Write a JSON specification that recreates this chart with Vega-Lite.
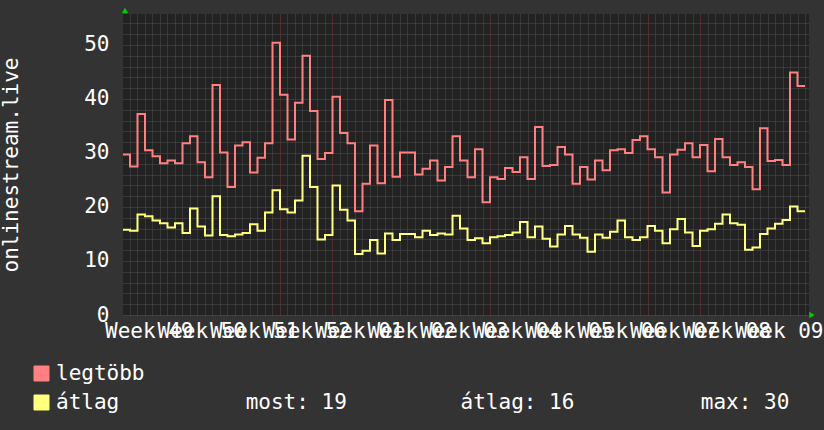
{
  "$schema": "https://vega.github.io/schema/vega-lite/v6.json",
  "width": 686,
  "height": 301,
  "autosize": "none",
  "padding": {"left": 123, "top": 14, "right": 15, "bottom": 115},
  "background": "#333333",
  "view": {"fill": "#222222", "stroke": null},
  "config": {"font": "DejaVu Sans Mono"},
  "data": {"values": [
    {"d": -1, "max": 29.7, "avg": 15.8}, {"d": 0, "max": 27.5, "avg": 15.6}, {"d": 1, "max": 37.2, "avg": 18.6},
    {"d": 2, "max": 30.5, "avg": 18.3}, {"d": 3, "max": 29.4, "avg": 17.5}, {"d": 4, "max": 28.1, "avg": 17.0},
    {"d": 5, "max": 28.6, "avg": 16.2}, {"d": 6, "max": 28.1, "avg": 17.0}, {"d": 7, "max": 31.8, "avg": 15.2},
    {"d": 8, "max": 33.1, "avg": 19.7}, {"d": 9, "max": 28.3, "avg": 16.4}, {"d": 10, "max": 25.5, "avg": 14.7},
    {"d": 11, "max": 42.6, "avg": 22.0}, {"d": 12, "max": 30.1, "avg": 14.8}, {"d": 13, "max": 23.7, "avg": 14.6},
    {"d": 14, "max": 31.4, "avg": 14.9}, {"d": 15, "max": 32.0, "avg": 15.2}, {"d": 16, "max": 26.4, "avg": 16.8},
    {"d": 17, "max": 29.1, "avg": 15.6}, {"d": 18, "max": 31.8, "avg": 19.0}, {"d": 19, "max": 50.4, "avg": 23.1},
    {"d": 20, "max": 40.8, "avg": 19.6}, {"d": 21, "max": 32.5, "avg": 19.0}, {"d": 22, "max": 39.3, "avg": 21.2},
    {"d": 23, "max": 48.0, "avg": 29.5}, {"d": 24, "max": 37.8, "avg": 23.7}, {"d": 25, "max": 28.9, "avg": 14.0},
    {"d": 26, "max": 30.0, "avg": 14.8}, {"d": 27, "max": 40.4, "avg": 24.0}, {"d": 28, "max": 33.7, "avg": 19.5},
    {"d": 29, "max": 31.8, "avg": 17.5}, {"d": 30, "max": 19.2, "avg": 11.3}, {"d": 31, "max": 24.3, "avg": 11.9},
    {"d": 32, "max": 31.4, "avg": 13.9}, {"d": 33, "max": 24.4, "avg": 11.4}, {"d": 34, "max": 39.8, "avg": 15.1},
    {"d": 35, "max": 25.6, "avg": 13.9}, {"d": 36, "max": 30.1, "avg": 15.0}, {"d": 37, "max": 30.1, "avg": 15.0},
    {"d": 38, "max": 26.0, "avg": 14.4}, {"d": 39, "max": 27.1, "avg": 15.6}, {"d": 40, "max": 28.6, "avg": 14.8},
    {"d": 41, "max": 24.9, "avg": 15.1}, {"d": 42, "max": 27.4, "avg": 14.9}, {"d": 43, "max": 33.1, "avg": 18.4},
    {"d": 44, "max": 28.6, "avg": 16.0}, {"d": 45, "max": 25.5, "avg": 13.9}, {"d": 46, "max": 30.7, "avg": 14.2},
    {"d": 47, "max": 20.9, "avg": 13.3}, {"d": 48, "max": 25.5, "avg": 14.4}, {"d": 49, "max": 25.2, "avg": 14.6},
    {"d": 50, "max": 27.2, "avg": 14.8}, {"d": 51, "max": 26.5, "avg": 15.3}, {"d": 52, "max": 29.2, "avg": 17.2},
    {"d": 53, "max": 25.2, "avg": 14.4}, {"d": 54, "max": 34.8, "avg": 16.4}, {"d": 55, "max": 27.6, "avg": 14.1},
    {"d": 56, "max": 27.8, "avg": 12.7}, {"d": 57, "max": 31.1, "avg": 14.9}, {"d": 58, "max": 29.7, "avg": 16.5},
    {"d": 59, "max": 24.3, "avg": 14.9}, {"d": 60, "max": 27.4, "avg": 14.3}, {"d": 61, "max": 25.1, "avg": 11.7},
    {"d": 62, "max": 28.6, "avg": 14.9}, {"d": 63, "max": 26.8, "avg": 14.3}, {"d": 64, "max": 30.5, "avg": 15.4},
    {"d": 65, "max": 30.7, "avg": 17.5}, {"d": 66, "max": 30.0, "avg": 14.4}, {"d": 67, "max": 32.4, "avg": 13.9},
    {"d": 68, "max": 33.1, "avg": 14.4}, {"d": 69, "max": 30.7, "avg": 16.5}, {"d": 70, "max": 29.2, "avg": 15.6},
    {"d": 71, "max": 22.7, "avg": 13.3}, {"d": 72, "max": 29.7, "avg": 15.9}, {"d": 73, "max": 30.6, "avg": 17.8},
    {"d": 74, "max": 31.8, "avg": 15.3}, {"d": 75, "max": 29.2, "avg": 12.8}, {"d": 76, "max": 31.5, "avg": 15.6},
    {"d": 77, "max": 26.6, "avg": 15.9}, {"d": 78, "max": 32.6, "avg": 16.9}, {"d": 79, "max": 29.2, "avg": 18.6},
    {"d": 80, "max": 27.8, "avg": 17.0}, {"d": 81, "max": 28.3, "avg": 16.7}, {"d": 82, "max": 27.4, "avg": 12.1},
    {"d": 83, "max": 23.3, "avg": 12.5}, {"d": 84, "max": 34.6, "avg": 15.0}, {"d": 85, "max": 28.5, "avg": 16.0},
    {"d": 86, "max": 28.7, "avg": 16.9}, {"d": 87, "max": 27.8, "avg": 17.6}, {"d": 88, "max": 44.9, "avg": 20.1},
    {"d": 89, "max": 42.4, "avg": 19.2}, {"d": 90, "max": 42.4, "avg": 19.2}
  ]},
  "layer": [
    {
      "transform": [{"fold": ["max", "avg"], "as": ["series", "v"]}],
      "mark": {"type": "line", "interpolate": "step-after", "strokeWidth": 2, "clip": true},
      "encoding": {
        "x": {
          "field": "d", "type": "quantitative", "title": null,
          "scale": {"domain": [-0.933, 90.533], "nice": false, "zero": false},
          "axis": {
            "values": [0,1,2,2.5,3,4,5,6,7,8,9,9.5,10,11,12,13,14,15,16,16.5,17,18,19,20,21,22,23,23.5,24,25,26,27,28,29,30,30.5,31,32,33,34,35,36,37,37.5,38,39,40,41,42,43,44,44.5,45,46,47,48,49,50,51,51.5,52,53,54,55,56,57,58,58.5,59,60,61,62,63,64,65,65.5,66,67,68,69,70,71,72,72.5,73,74,75,76,77,78,79,79.5,80,81,82,83,84,85,86,86.5,87,88,89,90],
            "labelExpr": "datum.value % 1 == 0 ? '' : (datum.value < 30 ? 'Week ' + (49 + floor(datum.value / 7)) : 'Week 0' + (floor(datum.value / 7) - 3))",
            "labelOverlap": false, "labelFlush": false, "labelBound": false,
            "labelFont": "DejaVu Sans Mono", "labelFontSize": 21, "labelColor": "#ffffff", "labelPadding": 5,
            "ticks": false, "domain": false, "grid": true,
            "gridColor": {"condition": {"test": "datum.value % 7 == 6 && datum.value < 90", "value": "#803838"}, "value": "#4e4e4e"},
            "gridOpacity": {"condition": {"test": "datum.value % 1 != 0", "value": 0}, "value": 1},
            "gridDash": [1, 1]
          }
        },
        "y": {
          "field": "v", "type": "quantitative", "title": "onlinestream.live",
          "scale": {"domain": [0, 55.74], "nice": false},
          "axis": {
            "values": [0,2,4,6,8,10,12,14,16,18,20,22,24,26,28,30,32,34,36,38,40,42,44,46,48,50,52,54],
            "labelExpr": "datum.value % 10 == 0 ? datum.label : ''",
            "labelOverlap": false,
            "labelFont": "DejaVu Sans Mono", "labelFontSize": 21, "labelColor": "#ffffff", "labelPadding": 14,
            "ticks": false, "domain": false, "grid": true,
            "gridColor": {"condition": {"test": "datum.value % 10 == 0", "value": "#803838"}, "value": "#4e4e4e"},
            "gridDash": [1, 1],
            "titleFont": "DejaVu Sans Mono", "titleFontSize": 21, "titleFontWeight": "normal", "titleColor": "#ffffff", "titlePadding": 62
          }
        },
        "color": {
          "field": "series", "type": "nominal",
          "scale": {"domain": ["max", "avg"], "range": ["#ff8080", "#ffff80"]},
          "legend": {
            "title": null, "orient": "none", "legendX": -92, "legendY": 349, "direction": "vertical",
            "symbolType": "square", "symbolSize": 225, "symbolStrokeWidth": 1, "symbolStrokeColor": "#000000",
            "labelFont": "DejaVu Sans Mono", "labelFontSize": 21, "labelColor": "#ffffff", "labelLimit": 900,
            "labelOffset": 4, "rowPadding": 7, "padding": 0,
            "labelExpr": "datum.value == 'max' ? 'legtöbb' : 'átlag' + '\u00a0\u00a0\u00a0\u00a0\u00a0\u00a0\u00a0\u00a0\u00a0\u00a0' + 'most:\u00a019' + '\u00a0\u00a0\u00a0\u00a0\u00a0\u00a0\u00a0\u00a0\u00a0' + 'átlag:\u00a016' + '\u00a0\u00a0\u00a0\u00a0\u00a0\u00a0\u00a0\u00a0\u00a0\u00a0' + 'max:\u00a030'",
            "encode": {"symbols": {"update": {"fill": {"scale": "color", "field": "value"}, "stroke": {"value": "#000000"}, "opacity": {"value": 1}}}}
          }
        }
      }
    },
    {
      "data": {"values": [{"d": -0.667, "v": 56.4}]},
      "mark": {"type": "point", "shape": "triangle-up", "filled": true, "size": 40, "color": "#00cc00", "opacity": 1},
      "encoding": {
        "x": {
          "field": "d", "type": "quantitative", "title": null,
          "axis": {
            "values": [0,1,2,2.5,3,4,5,6,7,8,9,9.5,10,11,12,13,14,15,16,16.5,17,18,19,20,21,22,23,23.5,24,25,26,27,28,29,30,30.5,31,32,33,34,35,36,37,37.5,38,39,40,41,42,43,44,44.5,45,46,47,48,49,50,51,51.5,52,53,54,55,56,57,58,58.5,59,60,61,62,63,64,65,65.5,66,67,68,69,70,71,72,72.5,73,74,75,76,77,78,79,79.5,80,81,82,83,84,85,86,86.5,87,88,89,90],
            "labelExpr": "datum.value % 1 == 0 ? '' : (datum.value < 30 ? 'Week ' + (49 + floor(datum.value / 7)) : 'Week 0' + (floor(datum.value / 7) - 3))",
            "labelOverlap": false, "labelFlush": false, "labelBound": false,
            "labelFont": "DejaVu Sans Mono", "labelFontSize": 21, "labelColor": "#ffffff", "labelPadding": 5,
            "ticks": false, "domain": false, "grid": true,
            "gridColor": {"condition": {"test": "datum.value % 7 == 6 && datum.value < 90", "value": "#803838"}, "value": "#4e4e4e"},
            "gridOpacity": {"condition": {"test": "datum.value % 1 != 0", "value": 0}, "value": 1},
            "gridDash": [1, 1]
          }
        },
        "y": {
          "field": "v", "type": "quantitative", "title": "onlinestream.live",
          "axis": {
            "values": [0,2,4,6,8,10,12,14,16,18,20,22,24,26,28,30,32,34,36,38,40,42,44,46,48,50,52,54],
            "labelExpr": "datum.value % 10 == 0 ? datum.label : ''",
            "labelOverlap": false,
            "labelFont": "DejaVu Sans Mono", "labelFontSize": 21, "labelColor": "#ffffff", "labelPadding": 14,
            "ticks": false, "domain": false, "grid": true,
            "gridColor": {"condition": {"test": "datum.value % 10 == 0", "value": "#803838"}, "value": "#4e4e4e"},
            "gridDash": [1, 1],
            "titleFont": "DejaVu Sans Mono", "titleFontSize": 21, "titleFontWeight": "normal", "titleColor": "#ffffff", "titlePadding": 62
          }
        }
      }
    },
    {
      "data": {"values": [{"d": 90.93, "v": 0}]},
      "mark": {"type": "point", "shape": "triangle-right", "filled": true, "size": 40, "color": "#00cc00", "opacity": 1},
      "encoding": {
        "x": {
          "field": "d", "type": "quantitative", "title": null,
          "axis": {
            "values": [0,1,2,2.5,3,4,5,6,7,8,9,9.5,10,11,12,13,14,15,16,16.5,17,18,19,20,21,22,23,23.5,24,25,26,27,28,29,30,30.5,31,32,33,34,35,36,37,37.5,38,39,40,41,42,43,44,44.5,45,46,47,48,49,50,51,51.5,52,53,54,55,56,57,58,58.5,59,60,61,62,63,64,65,65.5,66,67,68,69,70,71,72,72.5,73,74,75,76,77,78,79,79.5,80,81,82,83,84,85,86,86.5,87,88,89,90],
            "labelExpr": "datum.value % 1 == 0 ? '' : (datum.value < 30 ? 'Week ' + (49 + floor(datum.value / 7)) : 'Week 0' + (floor(datum.value / 7) - 3))",
            "labelOverlap": false, "labelFlush": false, "labelBound": false,
            "labelFont": "DejaVu Sans Mono", "labelFontSize": 21, "labelColor": "#ffffff", "labelPadding": 5,
            "ticks": false, "domain": false, "grid": true,
            "gridColor": {"condition": {"test": "datum.value % 7 == 6 && datum.value < 90", "value": "#803838"}, "value": "#4e4e4e"},
            "gridOpacity": {"condition": {"test": "datum.value % 1 != 0", "value": 0}, "value": 1},
            "gridDash": [1, 1]
          }
        },
        "y": {
          "field": "v", "type": "quantitative", "title": "onlinestream.live",
          "axis": {
            "values": [0,2,4,6,8,10,12,14,16,18,20,22,24,26,28,30,32,34,36,38,40,42,44,46,48,50,52,54],
            "labelExpr": "datum.value % 10 == 0 ? datum.label : ''",
            "labelOverlap": false,
            "labelFont": "DejaVu Sans Mono", "labelFontSize": 21, "labelColor": "#ffffff", "labelPadding": 14,
            "ticks": false, "domain": false, "grid": true,
            "gridColor": {"condition": {"test": "datum.value % 10 == 0", "value": "#803838"}, "value": "#4e4e4e"},
            "gridDash": [1, 1],
            "titleFont": "DejaVu Sans Mono", "titleFontSize": 21, "titleFontWeight": "normal", "titleColor": "#ffffff", "titlePadding": 62
          }
        }
      }
    }
  ]
}
